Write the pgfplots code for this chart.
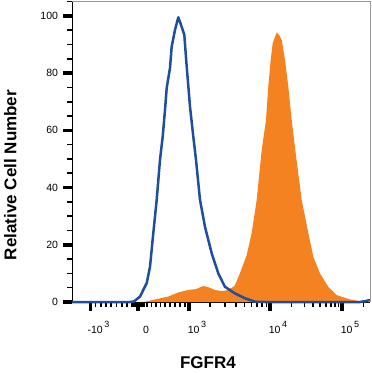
\documentclass[border=0pt]{standalone}
\usepackage{fontspec}
\setmainfont{Liberation Sans}
\usepackage{pgfplots}
\pgfplotsset{compat=1.18}
\definecolor{histblue}{RGB}{31,78,158}
\definecolor{historange}{RGB}{245,130,32}
\newcommand{\expo}[1]{\,\raisebox{5.5pt}{\fontsize{9}{10}\selectfont #1}}
\begin{document}
\begin{tikzpicture}[x=1pt,y=1pt]
\useasboundingbox (-72pt,-71pt) rectangle (300pt,302pt);
\begin{axis}[
  at={(0,0)}, anchor=south west,
  scale only axis, width=298pt, height=301pt,
  xmin=0, xmax=298, ymin=0, ymax=105.2,
  axis x line*=bottom, axis y line*=left,
  axis line style={-, black, line width=0.8pt},
  tick align=outside,
  xtick={18.5,66,117,198,270},
  xticklabels={-10\expo{3},0,10\expo{3},10\expo{4},10\expo{5}},
  minor xtick={23.5,28.8,34,39.3,44.5,49.8,55,60,61.5,63,64.5,67.5,69,70.5,72,
               75,79.5,84,88.5,93,98,103,108,113,
               138,153,164,172.5,179.5,185,190,194.5,
               219.7,232.4,241.3,248.3,254,258.8,263,266.7,291.7},
  ytick={0,20,40,60,80,100},
  minor ytick={5,10,15,25,30,35,45,50,55,65,70,75,85,90,95,105},
  major tick length=8.5pt, minor tick length=5pt,
  major tick style={line width=3.5pt, black},
  minor tick style={line width=1.6pt, black},
  tick label style={font=\fontsize{10.5}{12}\selectfont},
  yticklabel style={/pgf/number format/assume math mode=true, xshift=-2pt},
  xticklabel style={text height=13pt, xshift=8pt, yshift=-6pt},
  ylabel={\bfseries\fontsize{17}{20}\selectfont Relative Cell Number},
  ylabel style={at={(axis description cs:-0.207,0.422)}, anchor=center, rotate=0},
  xlabel={\bfseries\fontsize{17}{20}\selectfont FGFR4},
  xlabel style={at={(axis description cs:0.456,-0.203)}, anchor=center},
  after end axis/.code={\draw[gray!80, line width=0.6pt] (rel axis cs:0,1) -- (rel axis cs:1,1) -- (rel axis cs:1,0);},
  clip=false,
]
\addplot[fill=historange, draw=none] coordinates {
(68,0) (73,0.1) (83,0.9) (96.3,1.9) (106,3.3) (116,4.2) (124,4.5) (131,5.6) (136,5.2)
(143,4.2) (150,3.8) (156,4.2) (161.3,5.3) (163,5.9) (168,10.1) (174.7,16.4) (179.7,24.1)
(184.7,35.7) (189.7,53.1) (194,63.6) (196.3,75.3) (198.7,84.6) (200.7,90.5) (204.7,94.2)
(207,93.4) (209.7,91.6) (213,84.6) (216.3,75.3) (219.7,63.6) (223.5,52.5) (229.7,35.7)
(236.3,24.1) (241.3,15.8) (248,10.0) (256.3,5.3) (264.7,2.4) (278,0.9) (291.3,0.1) (298,0)
} \closedcycle;
\addplot[histblue, line width=2.5pt, line join=round] coordinates {
(0,0) (58,0) (62,0.2) (68,1.9) (74.7,6.6) (78,12.3) (81.3,24.1) (84.7,35.7) (88,49.7)
(90.7,57.8) (93,67.1) (94.7,74.8) (98,81.8) (99.7,89.3) (103,95.1) (106.3,99.5) (109,96.9)
(112.3,93.4) (114.7,82.3) (118,68.3) (121.3,57.8) (124,49.7) (128,35.7) (133,26.3)
(139.7,17.0) (146.3,10.0) (153,5.3) (163,3.0) (173,1.3) (183,0.1) (193,0) (288,0)
(294,0.35) (298,0.7)
};
\end{axis}
\end{tikzpicture}
\end{document}
